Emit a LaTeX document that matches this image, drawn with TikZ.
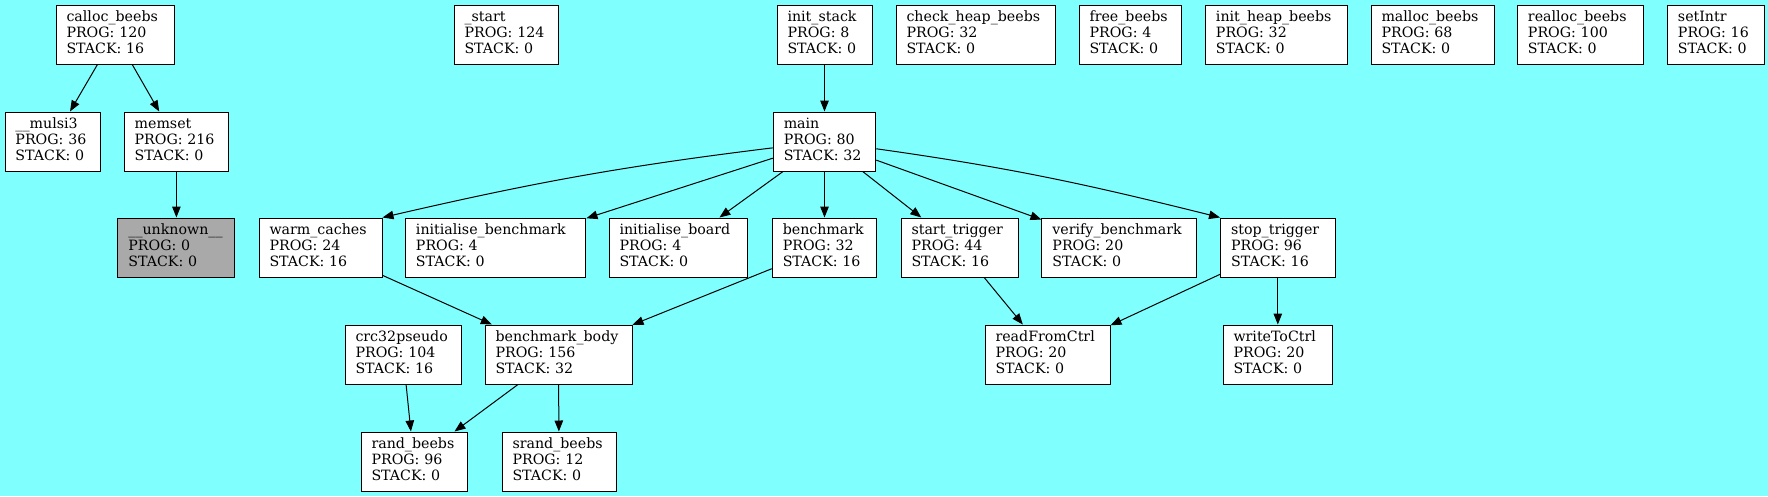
\documentclass[tikz,border=0pt]{standalone}
\usepackage{fontspec}
\setmainfont{DejaVu Serif}
\usetikzlibrary{arrows.meta}
\definecolor{bgcyan}{RGB}{128,255,255}
\definecolor{unknowngray}{RGB}{169,169,169}

\begin{document}
\begin{tikzpicture}[
  x=1pt, y=1pt,
  func/.style={rectangle, draw, fill=white, line width=1pt, text width=#1,
               minimum height=59pt, inner xsep=10.5pt, inner ysep=2pt,
               align=left, font=\fontsize{14.2pt}{16pt}\selectfont,
               execute at begin node={\rule{0pt}{11pt}},
               execute at end node={\rule[-4.5pt]{0pt}{4.5pt}}},
  call/.style={-{Triangle[length=11pt, width=8.5pt]}, line width=1pt}
]
  \useasboundingbox (0,0) rectangle (1768,-496);
  \fill[bgcyan] (0,0) rectangle (1768,-496);

  \node[func=97pt] (calloc) at (115,-34.5) {calloc\_beebs\\PROG:~120\\STACK:~16};
  \node[func=83pt] (start) at (506,-34.5) {\_start\\PROG:~124\\STACK:~0};
  \node[func=74pt] (initstack) at (824.5,-34.5) {init\_stack\\PROG:~8\\STACK:~0};
  \node[func=138pt] (checkheap) at (975.5,-34.5) {check\_heap\_beebs\\PROG:~32\\STACK:~0};
  \node[func=81pt] (free) at (1130,-34.5) {free\_beebs\\PROG:~4\\STACK:~0};
  \node[func=121.5pt] (initheap) at (1276.7,-34.5) {init\_heap\_beebs\\PROG:~32\\STACK:~0};
  \node[func=102pt] (malloc) at (1432.5,-34.5) {malloc\_beebs\\PROG:~68\\STACK:~0};
  \node[func=105.5pt] (realloc) at (1580.7,-34.5) {realloc\_beebs\\PROG:~100\\STACK:~0};
  \node[func=76.5pt] (setintr) at (1716.2,-34.5) {setIntr\\PROG:~16\\STACK:~0};

  \node[func=74pt] (mulsi) at (52.5,-141.5) {\_\_mulsi3\\PROG:~36\\STACK:~0};
  \node[func=83.5pt] (memset) at (176.4,-141.5) {memset\\PROG:~216\\STACK:~0};
  \node[func=81.5pt] (main) at (824.5,-141.5) {main\\PROG:~80\\STACK:~32};

  \node[func=96pt, fill=unknowngray] (unknown) at (176.4,-247.5) {\_\_unknown\_\_\\PROG:~0\\STACK:~0};
  \node[func=102pt] (warm) at (320.5,-247.5) {warm\_caches\\PROG:~24\\STACK:~16};
  \node[func=159.5pt] (initbench) at (495.7,-247.5) {initialise\_benchmark\\PROG:~4\\STACK:~0};
  \node[func=117pt] (initboard) at (678,-247.5) {initialise\_board\\PROG:~4\\STACK:~0};
  \node[func=83.5pt] (bench) at (824.5,-247.5) {benchmark\\PROG:~32\\STACK:~16};
  \node[func=96pt] (starttrig) at (959.5,-247.5) {start\_trigger\\PROG:~44\\STACK:~16};
  \node[func=133.5pt] (verify) at (1119.2,-247.5) {verify\_benchmark\\PROG:~20\\STACK:~0};
  \node[func=93.5pt] (stoptrig) at (1277.8,-247.5) {stop\_trigger\\PROG:~96\\STACK:~16};

  \node[func=95pt] (crc) at (403,-354.5) {crc32pseudo\\PROG:~104\\STACK:~16};
  \node[func=126pt] (benchbody) at (558.5,-354.5) {benchmark\_body\\PROG:~156\\STACK:~32};
  \node[func=104pt] (readctrl) at (1047.5,-354.5) {readFromCtrl\\PROG:~20\\STACK:~0};
  \node[func=88.6pt] (writectrl) at (1277.8,-354.5) {writeToCtrl\\PROG:~20\\STACK:~0};

  \node[func=85pt] (rand) at (414,-461.5) {rand\_beebs\\PROG:~96\\STACK:~0};
  \node[func=93pt] (srand) at (559,-461.5) {srand\_beebs\\PROG:~12\\STACK:~0};

  \draw[call] (calloc) -- (mulsi);
  \draw[call] (calloc) -- (memset);
  \draw[call] (memset) -- (unknown);
  \draw[call] (initstack) -- (main);
  \draw[call] (main) to[out=187, in=13] (warm.north east);
  \draw[call] (main) -- (initbench);
  \draw[call] (main) -- (initboard);
  \draw[call] (main) -- (bench);
  \draw[call] (main) -- (starttrig);
  \draw[call] (main) -- (verify);
  \draw[call] (main) to[out=-8, in=166] (stoptrig.north west);
  \draw[call] (warm) -- (benchbody);
  \draw[call] (bench) -- (benchbody);
  \draw[call] (starttrig) -- (readctrl);
  \draw[call] (stoptrig) -- (readctrl);
  \draw[call] (stoptrig) -- (writectrl);
  \draw[call] (crc) -- (rand);
  \draw[call] (benchbody) -- (rand);
  \draw[call] (benchbody) -- (srand);
\end{tikzpicture}
\end{document}
